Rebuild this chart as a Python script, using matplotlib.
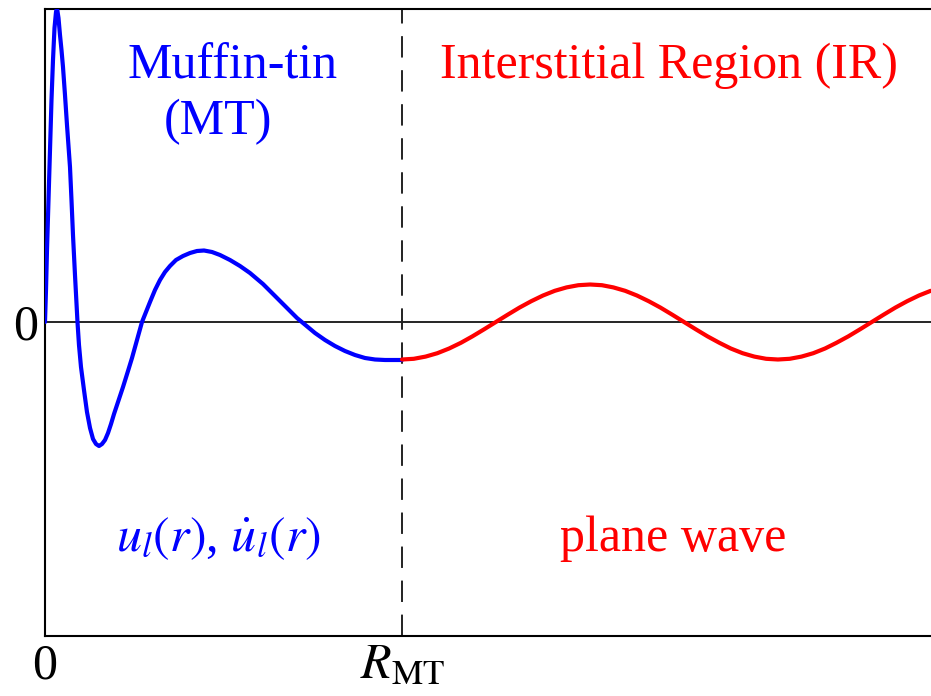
"""Muffin-tin / interstitial radial wave function sketch."""

import matplotlib

matplotlib.use("Agg")
import matplotlib.pyplot as plt

# radial coordinate in units of R_MT, amplitude in arbitrary units
mt_r = [0.0000, 0.0028, 0.0056, 0.0098, 0.0140, 0.0182, 0.0224, 0.0266, 0.0308, 0.0336,
        0.0378, 0.0420, 0.0462, 0.0504, 0.0560, 0.0616, 0.0658, 0.0700, 0.0742, 0.0784,
        0.0840, 0.0910, 0.0952, 0.1008, 0.1092, 0.1176, 0.1261, 0.1345, 0.1429, 0.1513,
        0.1597, 0.1681, 0.1765, 0.1849, 0.1933, 0.2045, 0.2185, 0.2325, 0.2437, 0.2577,
        0.2717, 0.2829, 0.2941, 0.3081, 0.3221, 0.3361, 0.3501, 0.3669, 0.3866, 0.4062,
        0.4258, 0.4454, 0.4678, 0.4902, 0.5182, 0.5462, 0.5742, 0.6106, 0.6443, 0.6779,
        0.7059, 0.7227, 0.7563, 0.7843, 0.8123, 0.8403, 0.8683, 0.8964, 0.9244, 0.9524,
        1.0000]
mt_u = [0.00, 0.32, 0.72, 1.22, 1.72, 2.22, 2.62, 2.94, 3.10, 3.14,
        3.04, 2.87, 2.72, 2.55, 2.27, 1.97, 1.76, 1.55, 1.22, 0.87,
        0.47, 0.00, -0.23, -0.45, -0.68, -0.90, -1.06, -1.17, -1.22, -1.24,
        -1.22, -1.18, -1.11, -1.02, -0.92, -0.80, -0.65, -0.49, -0.36, -0.18,
        0.00, 0.10, 0.20, 0.32, 0.42, 0.50, 0.56, 0.62, 0.66, 0.69,
        0.71, 0.715, 0.70, 0.67, 0.62, 0.56, 0.49, 0.38, 0.26, 0.14,
        0.04, -0.01, -0.11, -0.18, -0.24, -0.29, -0.33, -0.36, -0.375, -0.38,
        -0.38]

ir_r = [1.000, 1.033, 1.066, 1.099, 1.132, 1.165, 1.197, 1.230, 1.263, 1.296,
        1.329, 1.362, 1.395, 1.428, 1.461, 1.494, 1.527, 1.560, 1.592, 1.625,
        1.658, 1.691, 1.724, 1.757, 1.790, 1.823, 1.856, 1.889, 1.921, 1.954,
        1.987, 2.020, 2.053, 2.086, 2.119, 2.152, 2.185, 2.217, 2.250, 2.283,
        2.316, 2.349, 2.382, 2.415, 2.448, 2.481]
ir_u = [-0.375, -0.368, -0.346, -0.312, -0.265, -0.208, -0.144, -0.073, 0.000, 0.073,
        0.144, 0.208, 0.265, 0.312, 0.346, 0.368, 0.375, 0.368, 0.346, 0.312,
        0.265, 0.208, 0.144, 0.073, 0.000, -0.073, -0.144, -0.208, -0.265, -0.312,
        -0.346, -0.368, -0.375, -0.368, -0.346, -0.312, -0.265, -0.208, -0.144, -0.073,
        0.000, 0.073, 0.144, 0.208, 0.265, 0.312]

x_ticks = [0.0, 1.0]
x_ticklabels = ["0", r"$R_{\rm MT}$"]

plt.rcParams["font.family"] = ["Liberation Serif", "DejaVu Serif"]
plt.rcParams["mathtext.fontset"] = "stix"

fig = plt.figure(figsize=(9.31, 6.96), dpi=100)
ax = fig.add_axes([45 / 931, 60 / 696, 1 - 45 / 931, 627 / 696])

ax.plot(mt_r, mt_u, color="#0000ff", linewidth=3, solid_joinstyle="round",
        solid_capstyle="round", zorder=3)
ax.plot(ir_r, ir_u, color="#ff0000", linewidth=3, solid_joinstyle="round",
        solid_capstyle="round", zorder=3)
ax.axhline(0, color="black", linewidth=1.2, zorder=2)
ax.axvline(1.0, color="#222222", linewidth=1.4, linestyle=(0, (11, 6.5)), zorder=2)

ax.set_xlim(0, 886 / 357)
ax.set_ylim(-3.14, 3.13)
ax.spines["right"].set_visible(False)
for side in ("left", "top", "bottom"):
    ax.spines[side].set_linewidth(1.5)

ax.set_xticks(x_ticks, x_ticklabels)
ax.set_yticks([0.0], ["0"])
ax.tick_params(length=0, labelsize=36, pad=5)

ax.text(0.524, 2.56, "Muffin-tin", color="#0000ff", fontsize=36, ha="center", va="center")
ax.text(0.485, 2.0, "(MT)", color="#0000ff", fontsize=36, ha="center", va="center")
ax.text(1.748, 2.56, "Interstitial Region (IR)", color="#ff0000", fontsize=36,
        ha="center", va="center")
ax.text(0.485, -2.17, r"$u_l(r)$, $\dot{u}_l(r)$", color="#0000ff", fontsize=36,
        ha="center", va="center")
ax.text(1.759, -2.17, "plane wave", color="#ff0000", fontsize=36, ha="center", va="center")

fig.savefig("out.png", dpi=100)
